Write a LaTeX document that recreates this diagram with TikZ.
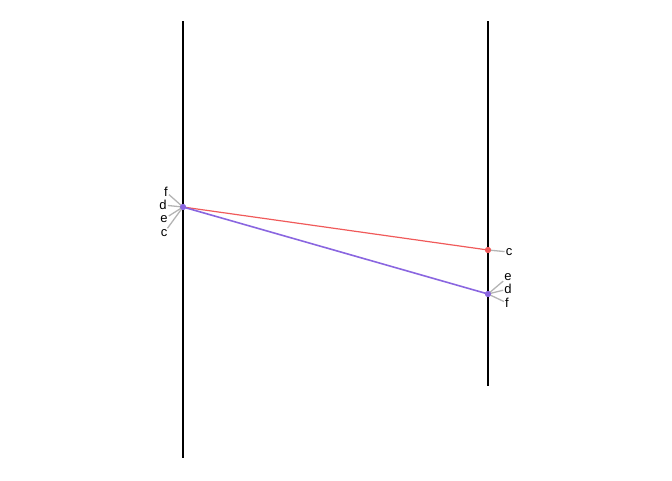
\documentclass[tikz,border=0pt]{standalone}
\usepackage{fontspec}
\setmainfont{Liberation Sans}
\definecolor{msgred}{HTML}{F05A5A}
\definecolor{msgpurple}{HTML}{8A66E0}
\definecolor{tickgray}{HTML}{B4B4B4}
\tikzset{
  lifeline/.style={line width=1.6pt, black},
  tick/.style={line width=1.3pt, tickgray},
  lbl/.style={font=\fontsize{13}{13}\selectfont, inner sep=1pt},
  pt/.style={circle, fill=#1, inner sep=0pt, minimum size=6pt}
}
\begin{document}
\begin{tikzpicture}[x=1pt,y=-1pt]
  \useasboundingbox (0,0) rectangle (672,480);
  \coordinate (l1) at (183,21);
  \coordinate (l2) at (183,458);
  \coordinate (r1) at (488,21);
  \coordinate (r2) at (488,386);
  \draw[lifeline] (l1) -- (l2);
  \draw[lifeline] (r1) -- (r2);
  \node[pt=msgpurple] (pl) at (183,207) {};
  \node[pt=msgred] (pc) at (488,250) {};
  \node[pt=msgpurple] (pf) at (488,294) {};
  \node[lbl] (lf) at (166,192) {f};
  \node[lbl] (ld) at (163,205) {d};
  \node[lbl] (le) at (164,219) {e};
  \node[lbl] (lc) at (164,233) {c};
  \node[lbl] (rc) at (509,252) {c};
  \node[lbl] (re) at (508,277) {e};
  \node[lbl] (rd) at (508,289) {d};
  \node[lbl] (rf) at (507,303) {f};
  \draw[tick] (pl.center) -- (lf);
  \draw[tick] (pl.center) -- (ld);
  \draw[tick] (pl.center) -- (le);
  \draw[tick] (pl.center) -- (lc);
  \draw[tick] (pc.center) -- (rc);
  \draw[tick] (pf.center) -- (re);
  \draw[tick] (pf.center) -- (rd);
  \draw[tick] (pf.center) -- (rf);
  \draw[msgred, line width=1.2pt] (pl.center) -- (pc.center);
  \draw[msgpurple, line width=1.6pt] (pl.center) -- (pf.center);
  \node[pt=msgpurple] at (pl) {};
  \node[pt=msgred] at (pc) {};
  \node[pt=msgpurple] at (pf) {};
\end{tikzpicture}
\end{document}
